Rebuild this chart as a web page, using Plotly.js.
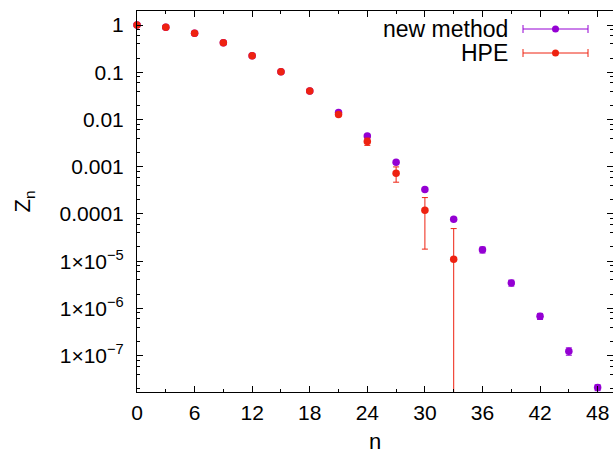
<!DOCTYPE html>
<html>
<head>
<meta charset="utf-8">
<script src="https://cdn.plot.ly/plotly-3.0.1.min.js"></script>
<style>html,body{margin:0;padding:0;background:#fff;}#chart{width:613px;height:456px;}</style>
</head>
<body>
<div id="chart"></div>
<script>
// ---- data ----
const newN   = [0, 3, 6, 9, 12, 15, 18, 21, 24, 27, 30, 33, 36, 39, 42, 45, 48];
const newZ   = [1.0, 0.893, 0.666, 0.422, 0.224, 0.1026, 0.040, 0.0141, 0.00445, 0.00125, 0.000331, 7.76e-5, 1.74e-5, 3.47e-6, 6.84e-7, 1.24e-7, 2.11e-8];
const newErr = [0.003, 0.003, 0.002, 0.0013, 0.0007, 0.0003, 0.00012, 0.0001, 0.00004, 0.00002, 0.000008, 2e-6, 2.5e-6, 5e-7, 1e-7, 2.2e-8, 3e-9];
const hpeN   = [0, 3, 6, 9, 12, 15, 18, 21, 24, 27, 30, 33];
const hpeZ   = [1.0, 0.893, 0.666, 0.422, 0.224, 0.1026, 0.040, 0.0128, 0.00343, 0.00073, 0.000120, 1.10e-5];
const hpeErr = [0.002, 0.002, 0.002, 0.0015, 0.001, 0.0005, 0.0003, 0.0003, 0.0006, 0.00026, 0.000102, 3.8e-5];
const seriesNames = ["new method", "HPE"];
const xTickVals = [0, 6, 12, 18, 24, 30, 36, 42, 48];
const yTickVals = [1, 0.1, 0.01, 0.001, 0.0001, 1e-5, 1e-6, 1e-7];
const yTickText = ["1", "0.1", "0.01", "0.001", "0.0001", "1×10<sup>−5</sup>", "1×10<sup>−6</sup>", "1×10<sup>−7</sup>"];

const PURPLE = "#9400d3";
const RED = "#ee2211";
const FONT = "Liberation Sans, Arial, Helvetica, sans-serif";

// minor ticks at 2,4,6,8 per decade
const yMinor = [];
for (let k = -9; k <= 0; k++) {
  [2, 4, 6, 8].forEach(m => yMinor.push(m * Math.pow(10, k)));
}

const traces = [
  {
    x: newN, y: newZ, name: seriesNames[0], type: "scatter", mode: "markers",
    marker: {color: PURPLE, size: 7.5},
    error_y: {type: "data", array: newErr, visible: true, color: PURPLE, thickness: 1, width: 3},
    cliponaxis: false, showlegend: false
  },
  {
    x: hpeN, y: hpeZ, name: seriesNames[1], type: "scatter", mode: "markers",
    marker: {color: RED, size: 7.5},
    error_y: {type: "data", array: hpeErr, visible: true, color: RED, thickness: 1, width: 3},
    cliponaxis: false, showlegend: false
  }
];

// custom gnuplot-style key (text left of sample)
const L = 137, W = 476, B = 392, H = 381;
const px = v => (v - L) / W;
const py = v => (B - v) / H;
const rows = [{y: 29, c: PURPLE, t: seriesNames[0]}, {y: 53, c: RED, t: seriesNames[1]}];
const annotations = [];
const shapes = [];
rows.forEach(r => {
  annotations.push({xref: "paper", yref: "paper", x: px(509), y: py(r.y), xanchor: "right", yanchor: "middle",
    text: r.t, showarrow: false, borderpad: 0, font: {family: FONT, size: 23, color: "#000"}});
  shapes.push({type: "line", xref: "paper", yref: "paper", x0: px(523), x1: px(588), y0: py(r.y), y1: py(r.y), line: {color: r.c, width: 1}});
  shapes.push({type: "line", xref: "paper", yref: "paper", x0: px(523), x1: px(523), y0: py(r.y - 4), y1: py(r.y + 4), line: {color: r.c, width: 1}});
  shapes.push({type: "line", xref: "paper", yref: "paper", x0: px(588), x1: px(588), y0: py(r.y - 4), y1: py(r.y + 4), line: {color: r.c, width: 1}});
  shapes.push({type: "circle", xref: "paper", yref: "paper", xsizemode: "pixel", ysizemode: "pixel",
    xanchor: px(555.5), yanchor: py(r.y), x0: -3.5, x1: 3.5, y0: -3.5, y1: 3.5,
    fillcolor: r.c, line: {color: r.c, width: 0}});
});

const layout = {
  width: 613, height: 456,
  margin: {l: 137, r: 0, t: 11, b: 64, pad: 0},
  paper_bgcolor: "#fff", plot_bgcolor: "#fff",
  showlegend: false,
  font: {family: FONT, size: 21, color: "#000"},
  xaxis: {
    range: [0, 49.6], tickmode: "array", tickvals: xTickVals,
    ticks: "inside", ticklen: 6, tickwidth: 1, tickcolor: "#000",
    showline: true, linecolor: "#000", linewidth: 1, mirror: "ticks",
    showgrid: false, zeroline: false,
    tickfont: {family: FONT, size: 21, color: "#000"},
    ticklabelstandoff: 2,
    minor: {dtick: 3, tick0: 0, ticks: "inside", ticklen: 3, tickcolor: "#000", showgrid: false},
    title: {text: "n", font: {family: FONT, size: 22, color: "#000"}, standoff: 10},
    automargin: false
  },
  yaxis: {
    type: "log", range: [-7.77, 0.297], tickmode: "array", tickvals: yTickVals, ticktext: yTickText,
    ticks: "inside", ticklen: 6, tickwidth: 1, tickcolor: "#000",
    showline: true, linecolor: "#000", linewidth: 1, mirror: "ticks",
    showgrid: false, zeroline: false,
    tickfont: {family: FONT, size: 21, color: "#000"},
    ticklabelstandoff: 8,
    minor: {tickmode: "array", tickvals: yMinor, ticks: "inside", ticklen: 3, tickcolor: "#000", showgrid: false},
    title: {text: "Z<sub>n</sub>", font: {family: FONT, size: 22, color: "#000"}, standoff: 22},
    automargin: false
  },
  annotations: annotations,
  shapes: shapes
};

Plotly.newPlot("chart", traces, layout, {staticPlot: true, displayModeBar: false});
</script>
</body>
</html>
